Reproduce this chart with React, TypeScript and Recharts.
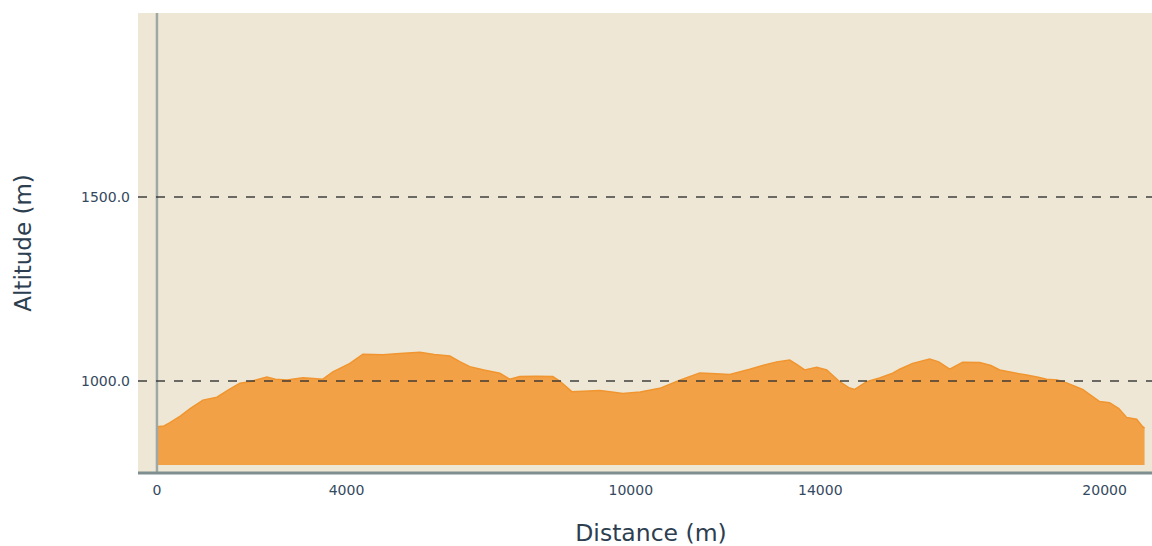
import React from 'react';
import { AreaChart, Area, XAxis, YAxis, CartesianGrid, ReferenceLine } from 'recharts';

const distances = [
  0, 150, 274, 500, 700, 970, 1266, 1500, 1751, 1962, 2320, 2500, 2743, 3080, 3300, 3502, 3713,
  4072, 4346, 4768, 5127, 5548, 5850, 6181, 6400, 6603, 6900, 7236, 7447, 7658, 8000, 8354, 8500,
  8755, 9000, 9346, 9600, 9831, 10200, 10612, 11034, 11456, 11800, 12089, 12511, 12800, 13080,
  13354, 13500, 13671, 13924, 14135, 14409, 14600, 14726, 14979, 15250, 15527, 15675, 15949,
  16308, 16500, 16730, 17004, 17363, 17600, 17785, 18059, 18354, 18600, 18776, 19000, 19198,
  19536, 19895, 20105, 20300, 20464, 20675, 20802, 20843,
];

const altitudes = [
  876, 878, 887, 905, 925, 948, 956, 975, 994, 998, 1011, 1005, 1003, 1009, 1007, 1005, 1025,
  1048, 1073, 1071, 1075, 1078, 1072, 1068, 1052, 1039, 1030, 1021, 1005, 1012, 1013, 1012, 1000,
  971, 972, 974, 970, 966, 970, 980, 1002, 1022, 1020, 1018, 1032, 1043, 1052,
  1057, 1045, 1030, 1037, 1030, 998, 982, 977, 998, 1008, 1021, 1032, 1048,
  1060, 1052, 1032, 1051, 1050, 1042, 1030, 1023, 1016, 1010, 1005, 1003, 995,
  977, 944, 941, 925, 901, 896, 876, 872,
];

const xTicks = [0, 4000, 10000, 14000, 20000];
const yTicks = [1000, 1500];

const data = distances.map((d, i) => ({ distance: d, altitude: altitudes[i] }));

const YLabel = (props: any) => {
  const vb = props.viewBox || {};
  const x = (vb.x ?? 8) + 15;
  const y = (vb.y ?? 13) + (vb.height ?? 460) / 2;
  return (
    <text
      x={x}
      y={y}
      transform={`rotate(-90, ${x}, ${y})`}
      textAnchor="middle"
      dominantBaseline="central"
      fill="#2c3e50"
      fontSize={23}
      fontFamily="DejaVu Sans"
    >
      Altitude (m)
    </text>
  );
};

const XLabel = (props: any) => {
  const vb = props.viewBox || {};
  const x = (vb.x ?? 138) + (vb.width ?? 1014) / 2 + 6;
  const y = (vb.y ?? 473) + 68;
  return (
    <text x={x} y={y} textAnchor="middle" fill="#2c3e50" fontSize={23.5} fontFamily="DejaVu Sans">
      Distance (m)
    </text>
  );
};

export default function App() {
  return (
    <div style={{ position: 'absolute', left: 8, top: 8, width: 1144, height: 538 }}>
      <AreaChart
        width={1144}
        height={538}
        data={data}
        margin={{ top: 5, right: 0, bottom: 0, left: 0 }}
        style={{ fontFamily: 'DejaVu Sans' }}
      >
        <CartesianGrid fill="#EEE7D5" fillOpacity={1} horizontal={false} vertical={false} />
        <XAxis
          dataKey="distance"
          type="number"
          domain={[-400, 21000]}
          ticks={xTicks}
          allowDataOverflow
          axisLine={{ stroke: '#7f8f8f', strokeWidth: 3 }}
          tickLine={false}
          tickMargin={6}
          height={73}
          tick={{ fill: '#34495e', fontSize: 14 }}
          label={<XLabel />}
        />
        <YAxis
          type="number"
          domain={[750, 2000]}
          ticks={yTicks}
          allowDataOverflow
          axisLine={false}
          tickLine={false}
          width={130}
          tick={{ fill: '#34495e', fontSize: 14 }}
          tickFormatter={(v: number) => v.toFixed(1)}
          label={<YLabel />}
        />
        <ReferenceLine x={0} stroke="#9ea8a4" strokeWidth={2.5} />
        <Area
          type="linear"
          dataKey="altitude"
          baseValue={772}
          stroke="#F0952F"
          strokeWidth={1.5}
          fill="#F3A147"
          fillOpacity={1}
          isAnimationActive={false}
          dot={false}
          activeDot={false}
        />
        <ReferenceLine y={1000} stroke="#333333" strokeOpacity={0.7} strokeWidth={2} strokeDasharray="9 9" />
        <ReferenceLine y={1500} stroke="#333333" strokeOpacity={0.7} strokeWidth={2} strokeDasharray="9 9" />
      </AreaChart>
    </div>
  );
}
